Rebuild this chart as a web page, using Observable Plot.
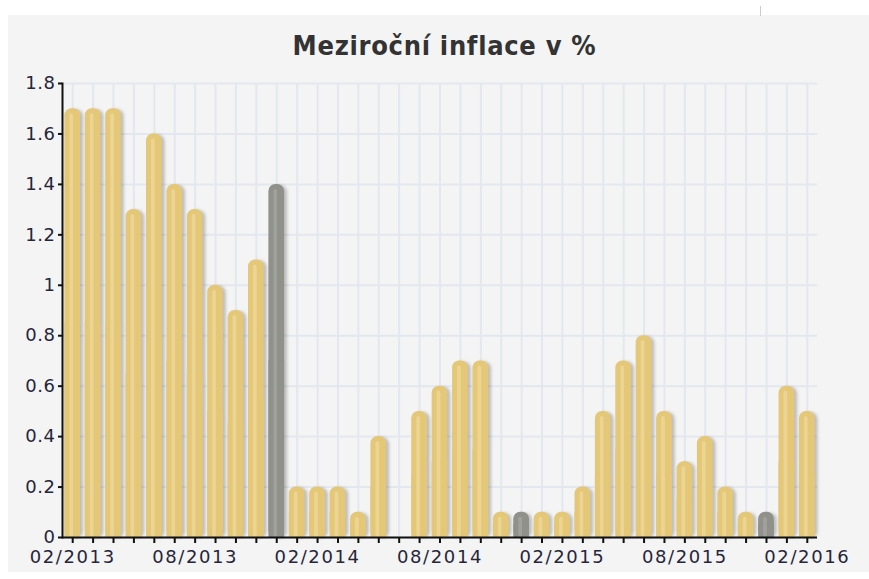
<!DOCTYPE html>
<html><head><meta charset="utf-8">
<script src="https://cdn.jsdelivr.net/npm/d3@7"></script>
<script src="https://cdn.jsdelivr.net/npm/@observablehq/plot@0.6"></script>
<style>
html,body{margin:0;padding:0;background:#fff;width:869px;height:579px;overflow:hidden;}
#panel{position:absolute;left:8px;top:15px;width:861px;height:557px;background:#f4f4f4;}
#topline{position:absolute;left:760px;top:6px;width:0;height:10px;border-left:1px solid #ccc;}
#title{position:absolute;left:0;top:31px;width:889px;text-align:center;font:bold 27px/30px "DejaVu Sans Condensed","Liberation Sans Narrow",sans-serif;color:#333;letter-spacing:0.7px;}
#chart{position:absolute;left:0;top:70px;}
#chart g[aria-label="x-axis tick label"] text{letter-spacing:1.6px;}
#chart g[aria-label="y-axis tick label"] text{letter-spacing:0.5px;}
</style></head><body>
<div id="panel"></div>
<div id="topline"></div>
<div id="title">Meziroční inflace v %</div>
<div id="chart"></div>
<script>
const months = [
  "02/2013","03/2013","04/2013","05/2013","06/2013","07/2013","08/2013","09/2013","10/2013","11/2013","12/2013",
  "01/2014","02/2014","03/2014","04/2014","05/2014","06/2014","07/2014","08/2014","09/2014","10/2014","11/2014","12/2014",
  "01/2015","02/2015","03/2015","04/2015","05/2015","06/2015","07/2015","08/2015","09/2015","10/2015","11/2015","12/2015",
  "01/2016","02/2016"
];
const inflation = [
  1.7,1.7,1.7,1.3,1.6,1.4,1.3,1.0,0.9,1.1,1.4,
  0.2,0.2,0.2,0.1,0.4,null,0.5,0.6,0.7,0.7,0.1,0.1,
  0.1,0.1,0.2,0.5,0.7,0.8,0.5,0.3,0.4,0.2,0.1,0.1,
  0.6,0.5
];
const labelMonths = ["02/2013","08/2013","02/2014","08/2014","02/2015","08/2015","02/2016"];
const yTicks = [0,0.2,0.4,0.6,0.8,1,1.2,1.4,1.6,1.8];

const goldFill = "#e4c878", goldLight = "#efdba2";
const grayFill = "#8f918a", grayLight = "#a9aaa4";

const data = months.map((m, i) => ({month: m, value: inflation[i], december: m.startsWith("12/")}));
const bars = data.filter(d => d.value != null);
const fillOf = d => d.december ? grayFill : goldFill;
const lightOf = d => d.december ? grayLight : goldLight;

const plot = Plot.plot({
  width: 869, height: 500,
  marginLeft: 62, marginRight: 52, marginTop: 13, marginBottom: 33,
  style: {background: "transparent", fontFamily: "'DejaVu Sans', Verdana, sans-serif", fontSize: "18px", color: "#26263a", overflow: "visible"},
  x: {type: "band", domain: months, round: false, paddingInner: 0.23, paddingOuter: 0.115, label: null},
  y: {domain: [0, 1.8], label: null},
  marks: [
    Plot.gridY(yTicks, {stroke: "#e3e7ef", strokeOpacity: 1, strokeWidth: 2}),
    Plot.gridX(months, {stroke: "#e3e7ef", strokeOpacity: 1, strokeWidth: 2}),
    Plot.barY(bars, {x: "month", y1: 0, y2: "value", fill: "#000", fillOpacity: 0.22, dx: 3, dy: 1, rx: 7}),
    Plot.barY(bars, {x: "month", y1: 0, y2: "value", fill: fillOf, rx: 7}),
    Plot.barY(bars, {x: "month", y1: 0, y2: d => d.value / 2, fill: fillOf}),
    Plot.barY(bars, {x: "month", y1: 0, y2: "value", insetTop: 5, insetLeft: 5, insetRight: 7, fill: lightOf, fillOpacity: 0.65, rx: 2}),
    Plot.ruleY([0], {stroke: "#111", strokeWidth: 2}),
    Plot.frame({anchor: "left", stroke: "#111", strokeWidth: 2}),
    Plot.axisY({ticks: yTicks, tickSize: 4, tickPadding: 3, stroke: "#111", strokeWidth: 2, fontSize: 18, tickFormat: d => String(+d.toFixed(1))}),
    Plot.axisX({ticks: months, tickSize: 6, tickPadding: 7, stroke: "#111", strokeWidth: 2, fontSize: 18, tickFormat: d => labelMonths.includes(d) ? d : ""})
  ]
});
document.getElementById("chart").appendChild(plot);

// soft shadow blur on the first bar layer
const svg = d3.select(plot);
const defs = svg.insert("defs", ":first-child");
defs.append("filter").attr("id", "barShadow").attr("x", "-50%").attr("y", "-10%").attr("width", "200%").attr("height", "120%")
  .append("feGaussianBlur").attr("stdDeviation", 1.6);
svg.selectAll("g[aria-label='bar']").filter((d, i) => i === 0).attr("filter", "url(#barShadow)");
</script>
</body></html>
